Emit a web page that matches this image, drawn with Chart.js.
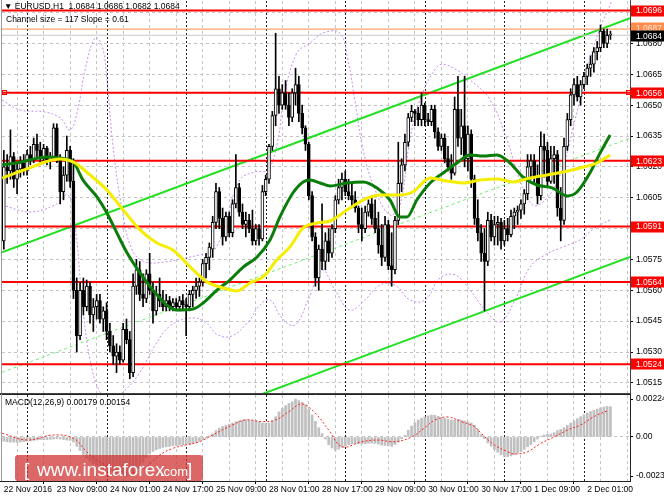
<!DOCTYPE html>
<html>
<head>
<meta charset="utf-8">
<script src="https://cdn.jsdelivr.net/npm/chart.js@4.4.1/dist/chart.umd.min.js"></script>
<style>
  html, body { margin: 0; padding: 0; background: #fff; }
  #wrap { position: relative; width: 664px; height: 498px; overflow: hidden; }
  canvas { position: absolute; left: 0; }
  #priceChart { top: 0; }
  #macdChart { top: 394px; }
</style>
</head>
<body>
<div id="wrap">
  <canvas id="priceChart" width="664" height="394"></canvas>
  <canvas id="macdChart" width="664" height="104"></canvas>
</div>
<script>
// EURUSD H1 candles, prices in pips above 1.0500 (bar 0 = 22 Nov 17:00)
const opens = [
  84,120,118,125,114,119,122,118,126,124, 131,128,124,129,123,125,139,124,108,116,
  128,113,60,38,60,52,62,48,52,55, 46,50,40,33,28,30,26,41,36,20,
  62,70,58,56,68,60,50,58,55,52, 55,52,54,52,55,53,52,58,60,62,
  64,73,76,80,93,108,95,86,96,88, 102,110,98,92,94,90,84,90,85,108,
  114,130,145,158,150,156,150,144,156,160, 146,139,131,106,86,66,80,74,84,78,
  90,104,110,114,108,106,104,100,92,90, 98,102,95,90,82,76,92,72,70,94,
  112,121,132,144,147,146,143,150,143,142, 148,137,130,134,124,120,117,148,134,140,
  124,136,114,95,88,78,74,94,86,92, 93,84,90,87,96,98,99,102,107,120,
  123,115,106,130,128,113,124,126,100,94, 130,143,155,160,154,160,164,168,170,176,
  178,186,180,184
];
const highs = [
  128,126,138,127,122,125,126,128,130,134, 136,132,131,130,127,141,141,126,120,135,
  130,124,66,64,66,65,64,56,58,58, 52,54,44,38,34,33,44,46,40,68,
  75,74,68,70,78,64,62,66,60,58, 57,56,56,57,58,56,60,62,66,66,
  75,78,83,96,112,110,100,98,98,104, 126,112,102,98,97,99,92,92,111,116,
  131,147,185,164,160,162,156,158,168,164, 150,140,132,108,88,82,102,88,90,92,
  106,114,117,118,114,112,108,101,100,101, 104,106,104,98,92,96,94,88,96,132,
  124,136,146,150,148,149,156,151,146,150, 150,139,136,136,130,126,154,164,148,164,
  140,138,116,104,92,90,98,97,96,96, 95,94,95,99,100,101,104,109,126,126,
  126,121,137,136,132,130,130,128,110,134, 146,158,163,164,162,166,170,174,178,181,
  189,187,187,186
];
const lows = [
  80,112,114,110,107,115,116,116,121,122, 125,121,122,121,119,124,122,102,104,113,
  110,56,30,36,48,50,44,40,46,44, 40,36,30,24,20,24,25,34,17,18,
  58,55,52,54,58,44,48,52,50,50, 50,50,50,50,51,38,50,52,56,57,
  62,66,70,76,90,90,82,84,86,86, 100,96,90,86,88,82,82,82,84,106,
  112,128,140,146,148,148,140,142,150,142, 136,128,104,84,62,60,70,70,74,76,
  88,102,104,106,104,100,98,88,84,88, 96,92,88,78,72,74,70,62,68,92,
  108,118,130,142,140,140,140,140,140,140, 134,128,128,122,118,114,116,130,126,120,
  118,110,92,84,74,50,72,84,82,82, 80,82,84,86,90,92,95,97,104,114,
  112,102,104,115,110,112,112,96,84,92, 128,140,150,152,150,158,160,164,166,172,
  176,178,178,182
];
const closes = [
  120,118,125,114,119,122,118,126,124,131, 128,124,129,123,125,139,124,108,116,128,
  113,60,38,60,52,62,48,52,55,46, 50,40,33,28,30,26,41,36,20,62,
  70,58,56,68,60,50,58,55,52,55, 52,54,52,55,53,52,58,60,62,64,
  73,76,81,93,108,95,86,96,88,102, 110,98,92,94,90,84,90,85,108,114,
  130,145,158,150,156,150,144,156,160,146, 139,131,106,86,66,80,74,84,78,90,
  104,110,114,108,106,104,100,92,90,98, 102,95,90,82,76,92,72,70,94,112,
  121,132,144,147,146,143,150,143,142,148, 137,130,134,124,120,117,148,134,140,124,
  136,114,95,88,78,74,94,86,92,93, 84,90,87,96,98,99,102,107,120,123,
  115,106,130,128,113,124,126,100,94,130, 143,155,160,154,160,164,168,170,176,178,
  186,180,184,184
];

// moving averages [bar, pips]
const maGreen = [
  [-0.5,121],[4,122],[7.9,123.4],[13,124.8],[17,124.3],[20.9,122.4],[23.9,113.6],[28.1,105.4],
  [31.1,97.6],[34.1,87.9],[37.2,78.1],[41.1,68.4],[45,60.1],[49.2,52.8],[52.2,50.4],[57.1,50.9],
  [60.1,53.8],[64.3,60.1],[68.2,65],[72.2,71.3],[76.4,76.2],[80.3,84.5],[83.3,95.7],[87.2,107.3],
  [90.3,112.7],[92.4,113.6],[95.4,112.2],[98.4,110.7],[103.5,112.2],[108.4,112.7],[112.6,109.7],
  [116.5,103.9],[119.5,95.6],[121.6,95.6],[124.6,103.9],[128.6,112.2],[132.5,117],[136.7,121.9],
  [140.6,125.8],[144.6,125.3],[148.8,125.8],[152.7,121.9],[156.6,115.1],[160.8,111.2],[165.6,109.7],
  [169.9,105.9],[172.9,107.8],[176.8,117],[179.9,126.8],[182.9,135.5]
];
const maYellow = [
  [-0.5,114.5],[3.4,117],[7.9,119.5],[12.4,122.4],[17,123.8],[20.9,122.4],[26,116.1],[31.1,108.8],
  [36,99.1],[41.1,89.4],[46.2,83],[51,79.6],[56.2,71.4],[61.3,64.1],[66.1,61.2],[70.3,59.7],
  [74.3,63.6],[78.2,66.5],[82.4,74.8],[86.3,81.1],[90.3,90.3],[94.5,92.7],[98.4,93.7],[103.5,99],
  [108.4,103.9],[113.5,106.3],[118.6,106.3],[123.4,107.8],[128.6,114.6],[133.7,113.1],[138.5,112.2],
  [143.6,113.6],[148.8,114.1],[153.6,112.7],[158.7,114.6],[163.9,116.1],[168.7,117.5],[173.8,119.5],
  [178.9,121.9],[182.9,125.8]
];
// Bollinger bands [bar, pips]
const bandUpper = [
  [-0.5,152.5],[4.9,147.7],[12.4,146.7],[17,143.8],[20,137.9],[22.4,148.6],[24.5,167.1],[27.5,182.7],
  [29.6,179.3],[31.1,162.3],[32.9,130.7],[35.7,99.1],[38.7,79.6],[42.6,73.8],[48.6,73.8],[54.7,75.7],
  [59.2,77.2],[63.1,78.7],[66.7,91.8],[71.2,113.6],[75.8,117.6],[79.7,118.5],[82.7,133.1],[84.5,154],
  [88.4,175.4],[92.4,180.2],[96.3,185.1],[101.4,185.1],[103.8,172],[105.9,152.5],[108.4,128.2],
  [112,108.8],[116.5,96.6],[119.5,101.4],[122.5,133.1],[125.5,152.5],[130.7,168.6],[133.7,169.5],
  [140.6,162.3],[146.7,152.5],[151.8,133.1],[155.7,113.6],[159.6,101.4],[163.3,103.9],[167.8,116.1],
  [172.3,142.8],[176.8,172],[179.9,187.5],[183.5,201]
];
const bandLower = [
  [-0.5,101.5],[7.9,98.1],[15.4,101.5],[19.4,106.3],[21.5,91.8],[23.6,55.3],[26,26.1],[29,10.5],
  [32,6.7],[36.6,11.5],[41.1,20.2],[45.7,33.4],[50.1,42.6],[56.2,46.5],[60.7,44.6],[64.6,38.3],
  [68.8,37.8],[73.7,44.6],[77.3,52.9],[80.3,55.3],[83.9,46.5],[87.8,43.1],[91.8,55.3],[96,69.9],
  [99.9,60.2],[104.4,50.4],[108.9,55.3],[113.5,62.6],[118,62.6],[122.5,55.3],[127.1,55.3],
  [131.6,66],[136.1,67.5],[140.6,60.2],[145.2,50.4],[149.7,44.6],[154.2,55.3],[158.7,71.3],
  [163.3,77.2],[168.7,81.1],[173.8,84.5],[178.3,90.3],[182.9,94.2]
];

// levels and channel (pips)
const levels = [196, 156, 123, 91, 64, 24];
const askLevel = 187;
const bidLevel = 184;
const channelTop = [[-0.55, 78.5], [188.9, 192.3]];
const channelMid = [[-0.55, 20.1], [188.9, 134.0]];
const channelBottom = [[70, 4.8], [188.9, 76.2]];

// MACD(12,26,9): main histogram per bar, signal line, in 1e-5
const macdMain = [
  -25,-28,-30,-30,-32,-30,-28,-25,-22,-20, -18,-16,-15,-15,-14,-12,-10,-12,-15,-18,
  -20,-30,-55,-80,-105,-125,-142,-156,-168,-178, -187,-195,-203,-210,-217,-223,-228,-231,-230,-225,
  -205,-180,-150,-122,-100,-85,-75,-68,-62,-58, -55,-52,-50,-48,-46,-45,-44,-40,-34,-26,
  -16,-6,6,18,38,52,62,70,76,82, 90,96,100,102,100,97,93,88,83,80,
  82,95,120,148,170,185,198,208,224,215, 205,190,165,130,92,55,20,-12,-45,-65,
  -78,-72,-62,-52,-45,-40,-38,-40,-42,-40, -37,-36,-38,-42,-48,-50,-52,-55,-45,-30,
  -10,10,40,65,85,100,110,118,125,130, 128,122,115,110,105,100,100,105,100,95,
  90,82,70,45,15,-10,-35,-55,-75,-90, -105,-115,-116,-112,-105,-95,-85,-72,-58,-45,
  -28,-12,5,12,15,18,25,38,45,55, 68,82,95,108,120,132,142,150,158,165,
  172,177,181,179
];
const macdSignal = [
  [-0.5,22],[7,-18],[15,12],[21,-8],[25,-87],[28,-136],[33,-185],[38,-212],[43,-176],[47,-107],
  [51,-67],[55,-47],[59,-28],[63,12],[69,71],[73,101],[78,91],[82,101],[86,150],[90,195],[94,140],
  [98,41],[102,-57],[108,-28],[113,-18],[118,-28],[123,0],[127,55],[130,100],[134,118],[138,91],
  [142,61],[144,22],[148,-47],[152,-87],[154,-100],[158,-87],[162,-37],[166,0],[170,41],[174,71],
  [178,120],[182,154]
];

// axes
const tickLabels = ['22 Nov 2016','23 Nov 09:00','24 Nov 01:00','24 Nov 17:00','25 Nov 09:00',
  '28 Nov 01:00','28 Nov 17:00','29 Nov 09:00','30 Nov 01:00','30 Nov 17:00','1 Dec 09:00','2 Dec 01:00'];
const labelBars = [0,16,32,48,64,80,96,112,128,144,160,176];
const gridBars = [0,8,16,24,32,40,48,56,64,72,80,88,96,104,112,120,128,136,144,152,160,168,176,184];
const daySeps = [7,31,55,79,103,127,151,175];
const priceTicks = [1.0515,1.0530,1.0545,1.0560,1.0575,1.0590,1.0605,1.0620,1.0635,1.0650,1.0665,1.0680,1.0695];
const macdTicks = [-0.00231, 0, 0.00224];

const X_MIN = -0.55, X_MAX = 188.9;
const P = p => 1.05 + p / 10000;
const pts = arr => arr.map(([i, p]) => ({ x: i, y: P(p) }));
const FONT = '"Liberation Sans", "DejaVu Sans", sans-serif';
Chart.defaults.font.family = FONT;
Chart.defaults.font.size = 8.5;
Chart.defaults.color = '#000';

const GRID = '#c4c4c4';

// keep the plot area exactly where the scale maths expects it
function fixWidth(s) { s.width = 34; s.paddingTop = 0; s.paddingBottom = 0; }
function fixHeight(h) { return s => { s.height = h; s.paddingLeft = 0; s.paddingRight = 0; }; }

function daySeparators(chart) {
  const { ctx, chartArea: a, scales: { x } } = chart;
  ctx.save();
  ctx.strokeStyle = '#222';
  ctx.lineWidth = 1;
  ctx.setLineDash([2, 2]);
  daySeps.forEach(i => {
    const px = Math.round(x.getPixelForValue(i)) + 0.5;
    ctx.beginPath(); ctx.moveTo(px, a.top); ctx.lineTo(px, a.bottom); ctx.stroke();
  });
  ctx.restore();
}

function tag(ctx, yPix, text, bg, fg) {
  ctx.fillStyle = bg;
  ctx.fillRect(631, Math.round(yPix) - 5.5, 33, 11);
  ctx.fillStyle = fg;
  ctx.fillText(text, 636, yPix + 0.5);
}

const priceOverlay = {
  id: 'priceOverlay',
  beforeDatasetsDraw: daySeparators,
  afterDraw(chart) {
    const { ctx, chartArea: a, scales: { y } } = chart;
    ctx.save();
    // frame
    ctx.strokeStyle = '#444'; ctx.lineWidth = 1;
    ctx.beginPath();
    ctx.moveTo(a.right + 0.5, 0); ctx.lineTo(a.right + 0.5, a.bottom + 1);
    ctx.moveTo(0, a.bottom + 0.5); ctx.lineTo(a.right, a.bottom + 0.5);
    ctx.stroke();
    ctx.strokeStyle = '#999';
    ctx.beginPath(); ctx.moveTo(1.5, 0); ctx.lineTo(1.5, a.bottom); ctx.stroke();
    // anchor squares on the 1.0656 line
    const ys = Math.round(y.getPixelForValue(P(levels[1])));
    ctx.strokeStyle = '#ff0000';
    ctx.strokeRect(2.5, ys - 2.5, 4, 4);
    ctx.strokeRect(626.5, ys - 2.5, 4, 4);
    // price tags
    ctx.font = '8.5px ' + FONT;
    ctx.textBaseline = 'middle';
    levels.forEach(l => tag(ctx, y.getPixelForValue(P(l)), P(l).toFixed(4), '#ff0000', '#ffffff'));
    tag(ctx, y.getPixelForValue(P(askLevel)) - 1, P(askLevel).toFixed(4), '#ff8c4a', '#ffe9dc');
    tag(ctx, y.getPixelForValue(P(bidLevel)) + 1, P(bidLevel).toFixed(4), '#000000', '#ffffff');
    // header
    const n = closes.length - 1;
    ctx.fillStyle = '#000';
    ctx.fillText('\u25BC EURUSD,H1  ' + [opens[n], highs[n], lows[n], closes[n]].map(v => P(v).toFixed(4)).join(' '), 4, 7);
    ctx.fillText('Channel size = 117 Slope = 0.61', 6, 20);
    ctx.restore();
  }
};

const macdOverlay = {
  id: 'macdOverlay',
  beforeDatasetsDraw: daySeparators,
  afterDraw(chart) {
    const { ctx, chartArea: a } = chart;
    ctx.save();
    ctx.strokeStyle = '#222'; ctx.lineWidth = 1;
    ctx.beginPath();
    ctx.moveTo(0, 0.5); ctx.lineTo(a.right + 1, 0.5);
    ctx.moveTo(a.right + 0.5, 0); ctx.lineTo(a.right + 0.5, a.bottom + 1);
    ctx.moveTo(0, a.bottom + 0.5); ctx.lineTo(a.right, a.bottom + 0.5);
    ctx.stroke();
    ctx.strokeStyle = '#999';
    ctx.beginPath(); ctx.moveTo(1.5, 0); ctx.lineTo(1.5, a.bottom); ctx.stroke();
    // label
    const lastMain = macdMain[macdMain.length - 1] / 1e5;
    const lastSig = macdSignal[macdSignal.length - 1][1] / 1e5;
    ctx.fillStyle = '#000';
    ctx.font = '8.5px ' + FONT;
    ctx.textBaseline = 'middle';
    ctx.fillText('MACD(12,26,9) ' + lastMain.toFixed(5) + ' ' + lastSig.toFixed(5), 5, 9);
    // watermark
    ctx.fillStyle = 'rgba(205, 45, 45, 0.72)';
    ctx.beginPath();
    ctx.roundRect(15, 61, 188, 26, 3);
    ctx.fill();
    ctx.fillStyle = '#ffffff';
    ctx.textBaseline = 'alphabetic';
    ctx.font = '19px ' + FONT;
    ctx.fillText('[', 24, 82);
    ctx.fillText('www.instaforex', 37, 82);
    ctx.font = '13px ' + FONT;
    ctx.fillText('.com', 160, 82);
    ctx.font = '19px ' + FONT;
    ctx.fillText(']', 187, 82);
    ctx.restore();
  }
};

const hline = (p, color, width, order) => ({
  type: 'line', data: [{ x: X_MIN, y: P(p) }, { x: X_MAX, y: P(p) }],
  borderColor: color, borderWidth: width, pointRadius: 0, order
});
const lineDs = (data, color, width, dash, order, mono) => ({
  type: 'line', data, borderColor: color, borderWidth: width, borderDash: dash,
  pointRadius: 0, order, tension: 0.4, cubicInterpolationMode: mono ? 'monotone' : 'default'
});

const wickData = highs.map((h, i) => ({ x: i, y: [P(lows[i]), P(h)] }));
const bodyData = opens.map((o, i) => {
  const c = closes[i];
  const lo = Math.min(o, c), hi = Math.max(o, c);
  return { x: i, y: [P(lo), P(hi === lo ? hi + 0.4 : hi)] };
});

new Chart(document.getElementById('priceChart'), {
  type: 'bar',
  data: {
    datasets: [
      lineDs(pts(bandUpper), '#c68cf0', 1, [2, 2], 8, false),
      lineDs(pts(bandLower), '#c68cf0', 1, [2, 2], 8, false),
      lineDs(pts(channelMid), '#6cf06c', 1, [3, 3], 7, false),
      lineDs(pts(channelTop), '#22e022', 2, [], 7, false),
      lineDs(pts(channelBottom), '#22e022', 2, [], 7, false),
      hline(askLevel, '#ff8c4a', 1, 6),
      hline(bidLevel, '#c8c8c8', 1, 6),
      ...levels.map(l => hline(l, '#ff0000', 2, 5)),
      { type: 'bar', data: wickData, backgroundColor: '#000', borderWidth: 0,
        barThickness: 1, grouped: false, order: 3 },
      { type: 'bar', data: bodyData, grouped: false, order: 2, barThickness: 3,
        borderColor: '#000', borderWidth: 1, borderSkipped: false,
        backgroundColor: ctx => closes[ctx.dataIndex] >= opens[ctx.dataIndex] ? '#ffffff' : '#000000' },
      lineDs(pts(maYellow), '#f5ee00', 3, [], 1, true),
      lineDs(pts(maGreen), '#0a7d0a', 3, [], 1, true)
    ]
  },
  options: {
    responsive: false,
    animation: false,
    layout: { padding: { left: 2, top: 1, bottom: 1, right: 0 } },
    plugins: { legend: { display: false }, tooltip: { enabled: false } },
    scales: {
      x: {
        type: 'linear', min: X_MIN, max: X_MAX, offset: false,
        afterBuildTicks: s => { s.ticks = gridBars.map(v => ({ value: v })); },
        ticks: { display: false },
        grid: { color: GRID, drawTicks: false },
        border: { display: false, dash: [3, 3] },
        afterFit: fixHeight(0)
      },
      y: {
        position: 'right', min: 1.0510068, max: 1.0700664,
        afterBuildTicks: s => { s.ticks = priceTicks.map(v => ({ value: v })); },
        ticks: { padding: 3, callback: v => v.toFixed(4) },
        grid: { color: GRID, tickColor: '#000', tickLength: 3, tickBorderDash: [] },
        border: { display: false, dash: [3, 3] },
        afterFit: fixWidth
      }
    }
  },
  plugins: [priceOverlay]
});

new Chart(document.getElementById('macdChart'), {
  type: 'bar',
  data: {
    datasets: [
      lineDs(macdSignal.map(([i, v]) => ({ x: i, y: v / 1e5 })), '#ff2020', 1, [2, 2], 1, false),
      { type: 'bar', data: macdMain.map((v, i) => ({ x: i, y: v / 1e5 })), backgroundColor: '#c0c0c0',
        barThickness: 2, grouped: false, order: 2 }
    ]
  },
  options: {
    responsive: false,
    animation: false,
    layout: { padding: { left: 2, top: 1, bottom: 0, right: 0 } },
    plugins: { legend: { display: false }, tooltip: { enabled: false } },
    scales: {
      x: {
        type: 'linear', min: X_MIN, max: X_MAX, offset: false,
        afterBuildTicks: s => { s.ticks = gridBars.map(v => ({ value: v })); },
        ticks: {
          autoSkip: false, maxRotation: 0, minRotation: 0, align: 'start', padding: 1,
          callback: v => { const k = labelBars.indexOf(v); return k >= 0 ? tickLabels[k] : ''; }
        },
        grid: {
          color: GRID, tickLength: 3,
          tickColor: c => (c.tick && labelBars.includes(c.tick.value)) ? '#000' : 'rgba(0,0,0,0)'
        },
        border: { display: false, dash: [3, 3] },
        afterFit: fixHeight(17)
      },
      y: {
        position: 'right', min: -0.0025999, max: 0.0024817,
        afterBuildTicks: s => { s.ticks = macdTicks.map(v => ({ value: v })); },
        ticks: { padding: 3, callback: v => v === 0 ? '0.00' : v.toFixed(5) },
        grid: {
          color: c => (c.tick && c.tick.value === 0) ? GRID : 'rgba(0,0,0,0)',
          tickColor: '#000', tickLength: 3
        },
        border: { display: false, dash: [3, 3] },
        afterFit: fixWidth
      }
    }
  },
  plugins: [macdOverlay]
});
</script>
</body>
</html>
